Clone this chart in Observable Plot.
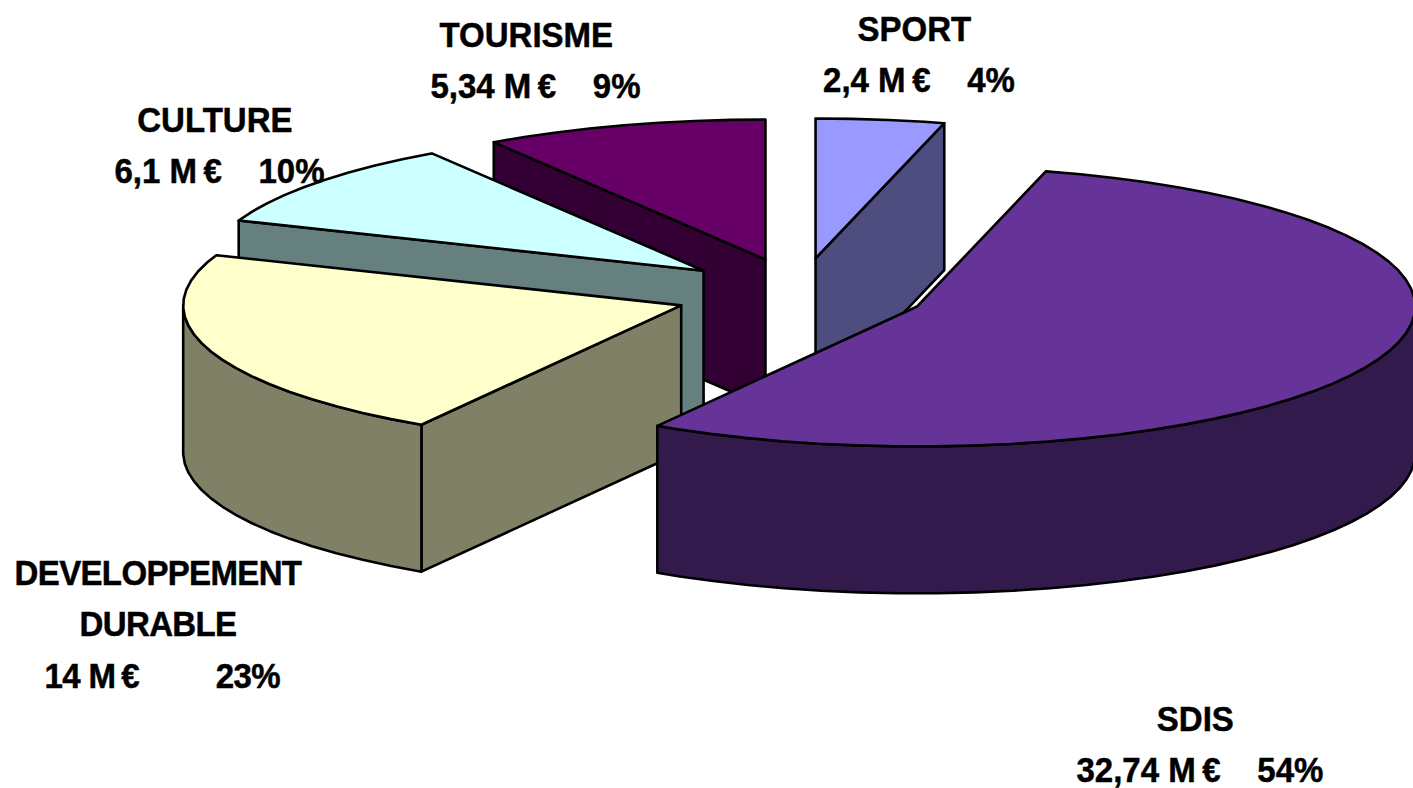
<!DOCTYPE html>
<html>
<head>
<meta charset="utf-8">
<script src="https://cdn.jsdelivr.net/npm/d3@7"></script>
<script src="https://cdn.jsdelivr.net/npm/@observablehq/plot@0.6"></script>
<style>
html,body{margin:0;padding:0;background:#fff}
svg{display:block}
</style>
</head>
<body>
<div id="chart"></div>
<script>
// Data, in pie order (clockwise from the top)
const categories = ["SPORT", "SDIS", "DEVELOPPEMENT\nDURABLE", "CULTURE", "TOURISME"];
const amounts = [2.4, 32.74, 14, 6.1, 5.34];
const amountLabels = ["2,4 M\u2009€", "32,74 M\u2009€", "14 M\u2009€", "6,1 M\u2009€", "5,34 M\u2009€"];
const percentLabels = ["4%", "54%", "23%", "10%", "9%"];
const gaps = [4, 4, 9, 4, 4];
const leads = [1, 1, 1, 1, 2];
const topColors = ["#9999FF", "#663399", "#FFFFCC", "#CCFFFF", "#660066"];
const wallColors = ["#4D4D80", "#331A4D", "#808066", "#668080", "#330033"];
const labelNudges = [[37, -115], [-185, 337], [-54, 197], [-108, -85], [-103, -114]];
const labelTracking = [0, 0, -0.7, 0, 0];

// 3-D pie parameters, in units of the pie radius
const tilt = 0.281, depth = 0.295, explode = 0.253, stepDeg = 4;
const squashBack = 0.95, squashFront = 0.90;
const rad = (d) => d * Math.PI / 180;
const total = d3.sum(amounts);

let cursor = 90;
const slices = categories.map((name, i) => {
  const sweep = amounts[i] / total * 360;
  const start = cursor, end = cursor - sweep;
  cursor = end;
  const mid = (start + end) / 2;
  return {
    i, name, start, end, mid,
    cx: explode * Math.cos(rad(mid)),
    cy: explode * tilt * Math.sin(rad(mid))
  };
});

const rim = (s, a, drop = 0) => {
  const sn = Math.sin(rad(a));
  const c = Math.cos(rad(a)), d = (sn < 0 ? squashFront : squashBack) * sn, n = Math.hypot(c, d);
  return {x: s.cx + c / n, y: s.cy + tilt * d / n - drop};
};
const apex = (s, drop = 0) => ({x: s.cx, y: s.cy - drop});
const arc = (s, from, to, drop = 0) => {
  const pts = [];
  for (let a = from; a > to; a -= stepDeg) pts.push(rim(s, a, drop));
  pts.push(rim(s, to, drop));
  return pts;
};
const close = (pts) => [...pts, pts[0]];

const faces = [];
for (const s of [...slices].sort((a, b) => Math.sin(rad(b.mid)) - Math.sin(rad(a.mid)))) {
  const wall = wallColors[s.i];
  // radial walls that face the viewer
  for (const [a, normal] of [[s.start, s.start + 90], [s.end, s.end - 90]]) {
    if (Math.sin(rad(normal)) < -1e-6) {
      faces.push({fill: wall, pts: close([apex(s), rim(s, a), rim(s, a, depth), apex(s, depth)])});
    }
  }
  // outer wall: the part of the rim on the front half
  const from = Math.min(s.start, 0), to = Math.max(s.end, -180);
  if (from > to) {
    faces.push({fill: wall, pts: close([...arc(s, from, to), ...arc(s, from, to, depth).reverse()])});
  }
  // top
  faces.push({fill: topColors[s.i], pts: close([apex(s), ...arc(s, s.start, s.end)])});
}

const labels = slices.map((s) => {
  const c = 1 + explode;
  return {
    x: c * Math.cos(rad(s.mid)),
    y: c * tilt * Math.sin(rad(s.mid)),
    text: `${s.name}\n${"\u00A0".repeat(leads[s.i])}${amountLabels[s.i]}${"\u00A0".repeat(gaps[s.i])}${percentLabels[s.i]}`,
    nudge: labelNudges[s.i]
  };
});

const chart = Plot.plot({
  width: 1413,
  height: 788,
  margin: 0,
  x: {domain: [-1.6052, 1.2321], range: [0, 1413], axis: null},
  y: {domain: [0.5884, -0.9940], range: [0, 788], axis: null},
  style: {background: "#fff", overflow: "hidden"},
  marks: [
    ...faces.map((f) => Plot.line(f.pts, {
      x: "x", y: "y", fill: f.fill, stroke: "#000",
      strokeWidth: 2.6, strokeLinejoin: "round", curve: "linear"
    })),
    ...labels.map((l) => Plot.text([l], {
      x: "x", y: "y", text: "text",
      dx: l.nudge[0], dy: l.nudge[1],
      textAnchor: "middle", lineAnchor: "top", lineHeight: 1.417,
      fontFamily: "Liberation Sans", fontWeight: "bold", fontSize: 36,
      fill: "#000"
    }))
  ]
});
// The reference's lettering is tall, narrow and heavy: condense and thicken it.
chart.querySelectorAll("text").forEach((t, i) => {
  t.setAttribute("transform", `${t.getAttribute("transform") || ""} scale(0.917,1)`);
  t.style.letterSpacing = `${labelTracking[i]}px`;
  t.style.stroke = "#000";
  t.style.strokeWidth = "0.5px";
});
document.getElementById("chart").append(chart);
</script>
</body>
</html>
